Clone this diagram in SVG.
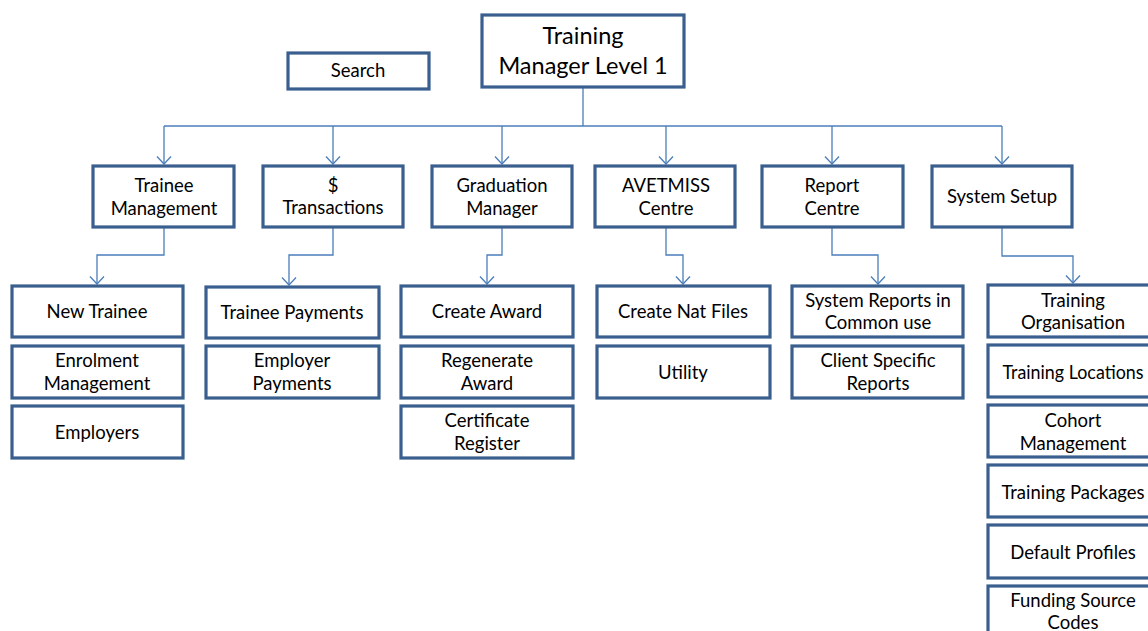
<svg xmlns="http://www.w3.org/2000/svg" width="1148" height="631" viewBox="0 0 1148 631">
<style>
.box{fill:#fff;stroke:#3A5F8E;stroke-width:3.2}
.t{font-family:Lato,"Open Sans","Liberation Sans",sans-serif;font-size:18.5px;fill:#000;text-anchor:middle}
.big{font-size:23.5px}
.c{fill:none;stroke:#4A7EBB;stroke-width:1.3}
</style>
<defs>
<marker id="ah" markerWidth="16" markerHeight="16" refX="8" refY="8" orient="auto" markerUnits="userSpaceOnUse">
<path d="M0.5,1 L8,8 L0.5,15" fill="none" stroke="#4A7EBB" stroke-width="1.3"/>
</marker>
</defs>
<rect width="1148" height="631" fill="#fff"/>
<g id="connectors">
<path class="c" d="M583,88 V126"/>
<path class="c" d="M164,126 H1002"/>
<path class="c" d="M164,126 V164" marker-end="url(#ah)"/>
<path class="c" d="M333,126 V164" marker-end="url(#ah)"/>
<path class="c" d="M502,126 V164" marker-end="url(#ah)"/>
<path class="c" d="M666,126 V164" marker-end="url(#ah)"/>
<path class="c" d="M832,126 V164" marker-end="url(#ah)"/>
<path class="c" d="M1002,126 V164" marker-end="url(#ah)"/>
<path class="c" d="M164,228 V255 H97 V284" marker-end="url(#ah)"/>
<path class="c" d="M333,228 V255 H289 V285" marker-end="url(#ah)"/>
<path class="c" d="M502,228 V255 H487 V284" marker-end="url(#ah)"/>
<path class="c" d="M666,228 V255 H683 V284" marker-end="url(#ah)"/>
<path class="c" d="M832,228 V255 H878 V284" marker-end="url(#ah)"/>
<path class="c" d="M1002,228 V256 H1073 V283" marker-end="url(#ah)"/>
</g>
<g id="root"><rect class="box" x="482" y="15" width="202" height="72"/><text class="t big" x="583" y="44">Training</text><text class="t big" x="583" y="74">Manager Level 1</text></g>
<g id="search"><rect class="box" x="288" y="53" width="141" height="36"/><text class="t" x="358" y="77">Search</text></g>
<g id="trainee-management"><rect class="box" x="93" y="166" width="141" height="61"/><text class="t" x="164" y="192">Trainee</text><text class="t" x="164" y="215">Management</text></g>
<g id="transactions"><rect class="box" x="263" y="166" width="140" height="61"/><text class="t" x="333" y="192">$</text><text class="t" x="333" y="214">Transactions</text></g>
<g id="graduation-manager"><rect class="box" x="432" y="166" width="140" height="61"/><text class="t" x="502" y="192">Graduation</text><text class="t" x="502" y="215">Manager</text></g>
<g id="avetmiss-centre"><rect class="box" x="595" y="166" width="140" height="61"/><text class="t" x="666" y="192">AVETMISS</text><text class="t" x="666" y="215">Centre</text></g>
<g id="report-centre"><rect class="box" x="762" y="166" width="141" height="61"/><text class="t" x="832" y="192">Report</text><text class="t" x="832" y="215">Centre</text></g>
<g id="system-setup"><rect class="box" x="932" y="166" width="140" height="61"/><text class="t" x="1002" y="203">System Setup</text></g>
<g id="new-trainee"><rect class="box" x="12" y="286" width="171" height="51"/><text class="t" x="97" y="318">New Trainee</text></g>
<g id="enrolment-management"><rect class="box" x="12" y="346" width="171" height="52"/><text class="t" x="97" y="367">Enrolment</text><text class="t" x="97" y="390">Management</text></g>
<g id="employers"><rect class="box" x="12" y="406" width="171" height="52"/><text class="t" x="97" y="439">Employers</text></g>
<g id="trainee-payments"><rect class="box" x="206" y="287" width="173" height="51"/><text class="t" x="292" y="319">Trainee Payments</text></g>
<g id="employer-payments"><rect class="box" x="206" y="346" width="173" height="52"/><text class="t" x="292" y="367">Employer</text><text class="t" x="292" y="390">Payments</text></g>
<g id="create-award"><rect class="box" x="401" y="286" width="172" height="51"/><text class="t" x="487" y="318">Create Award</text></g>
<g id="regenerate-award"><rect class="box" x="401" y="346" width="172" height="52"/><text class="t" x="487" y="367">Regenerate</text><text class="t" x="487" y="390">Award</text></g>
<g id="certificate-register"><rect class="box" x="401" y="406" width="172" height="52"/><text class="t" x="487" y="427">Certificate</text><text class="t" x="487" y="450">Register</text></g>
<g id="create-nat-files"><rect class="box" x="597" y="286" width="173" height="51"/><text class="t" x="683" y="318">Create Nat Files</text></g>
<g id="utility"><rect class="box" x="597" y="346" width="173" height="52"/><text class="t" x="683" y="379">Utility</text></g>
<g id="system-reports"><rect class="box" x="792" y="286" width="171" height="51"/><text class="t" x="878" y="307">System Reports in</text><text class="t" x="878" y="329">Common use</text></g>
<g id="client-specific-reports"><rect class="box" x="792" y="346" width="171" height="52"/><text class="t" x="878" y="367">Client Specific</text><text class="t" x="878" y="390">Reports</text></g>
<g id="training-organisation"><rect class="box" x="988" y="285" width="172" height="52"/><text class="t" x="1073" y="307">Training</text><text class="t" x="1073" y="329">Organisation</text></g>
<g id="training-locations"><rect class="box" x="988" y="345" width="172" height="52"/><text class="t" x="1073" y="379" textLength="141" lengthAdjust="spacingAndGlyphs">Training Locations</text></g>
<g id="cohort-management"><rect class="box" x="988" y="405" width="172" height="52"/><text class="t" x="1073" y="427">Cohort</text><text class="t" x="1073" y="450">Management</text></g>
<g id="training-packages"><rect class="box" x="988" y="465" width="172" height="52"/><text class="t" x="1073" y="499">Training Packages</text></g>
<g id="default-profiles"><rect class="box" x="988" y="525" width="172" height="53"/><text class="t" x="1073" y="559">Default Profiles</text></g>
<g id="funding-source-codes"><rect class="box" x="988" y="586" width="172" height="60"/><text class="t" x="1073" y="607">Funding Source</text><text class="t" x="1073" y="629">Codes</text></g>
</svg>
